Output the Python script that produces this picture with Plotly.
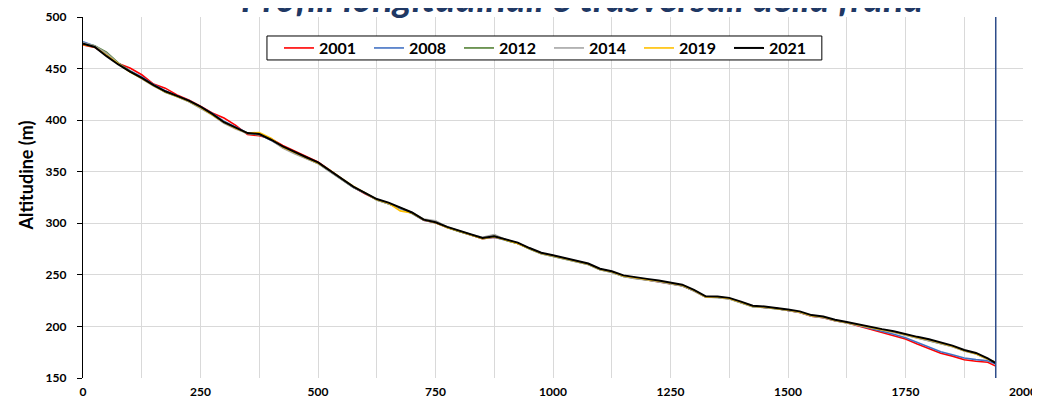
import plotly.graph_objects as go

# progressive distance along the profile (m)
dist = [0, 25, 50, 75, 100, 125, 150, 175, 200, 225, 250, 275, 300, 325, 350, 375, 400, 425, 450, 475,
        500, 525, 550, 575, 600, 625, 650, 675, 700, 725, 750, 775, 800, 825, 850, 875, 900, 925, 950, 975,
        1000, 1025, 1050, 1075, 1100, 1125, 1150, 1175, 1200, 1225, 1250, 1275, 1300, 1325, 1350, 1375,
        1400, 1425, 1450, 1475, 1500, 1525, 1550, 1575, 1600, 1625, 1650, 1675, 1700, 1725, 1750, 1775,
        1800, 1825, 1850, 1875, 1900, 1925, 1942]

years = ["2001", "2008", "2012", "2014", "2019", "2021"]

alt_2001 = [473, 470.5, 463, 455, 450.5, 444, 435, 431, 424.5, 419.5, 413.5, 407, 402, 395, 386,
            385, 382, 375.5, 370, 365, 359.5, 351.5, 343, 335, 328.5, 323, 319.5, 314.5, 310, 303,
            300.5, 296, 292.5, 289, 285, 286.5, 284, 280.5, 275.5, 271, 268.5, 266, 263.5, 260.5, 255.5,
            253, 249, 247, 245.5, 243.5, 241.5, 239.5, 234.5, 228.5, 228.5, 227, 223.5, 219.5, 218.5, 217.5,
            215.5, 213.5, 210, 208.5, 205.5, 203.5, 200.5, 197.5, 194.2, 191.3, 187.8, 183, 178.5, 174,
            171.2, 167.7, 166.3, 165.2, 161.5]
alt_2008 = [476, 472, 464, 455, 448, 442, 434.5, 428.5, 423.5, 419, 413, 406.5, 399, 393, 387.5,
            386, 380.5, 374, 368.5, 363.5, 358.5, 350.5, 342.5, 335, 329, 323, 319, 314.5, 309.5, 303,
            300.5, 296, 292.5, 289, 285, 286.5, 283.8, 280.5, 275.5, 271, 268.5, 266, 263.5, 260.5, 255.5,
            252.8, 249, 246.8, 245.5, 243.5, 241.5, 239.5, 234.5, 228.5, 228.3, 227, 223.3, 219.5, 218.5, 217.5,
            215.5, 213.8, 210.2, 208.8, 205.8, 203.8, 201, 198.3, 195.2, 192.4, 189, 184.5, 180, 175.5,
            172.6, 169.4, 167.8, 166.8, 163.5]
alt_2012 = [474.5, 472, 466, 455.5, 447.5, 440.5, 433.5, 427, 423, 418, 412, 405.5, 397.5, 392, 387,
            386, 381.5, 373.5, 368, 363, 358, 350.5, 343, 335, 329.5, 322.5, 319, 315, 310, 303.5,
            302, 296, 292, 288.5, 285.5, 288.5, 283.5, 280.5, 275, 270.5, 268, 265.5, 263, 260, 255,
            252.5, 248.5, 246.5, 245, 243.5, 241.5, 239.5, 234.5, 228.5, 228, 226.8, 223, 219, 218.5, 217.3,
            215.7, 213.8, 210.3, 208.8, 205.7, 203.5, 201, 199, 196.6, 194.6, 191.8, 189.2, 186.8, 183.5,
            180.6, 176.5, 173.5, 168.3, 165]
alt_2014 = [475, 472, 465, 455, 447, 440, 433, 427.5, 422.5, 418, 411.5, 405, 397, 391.5, 387,
            386, 381, 373, 367.5, 363, 358, 350, 342.5, 335, 329.5, 322.5, 319, 315, 310.5, 304,
            302.5, 296.5, 292.5, 289, 286.5, 289, 284, 281, 275.5, 270.5, 268, 265.5, 263, 260, 255,
            252.5, 248.5, 246.3, 245, 243, 241.3, 239.3, 234.3, 228.3, 228, 226.5, 223, 219, 218.3, 217.3,
            215.5, 213.5, 210, 208.5, 205.5, 203.3, 200.8, 198.8, 196.5, 194.3, 191.5, 189, 186.5, 183.3,
            180.3, 176.3, 173.2, 168, 165.5]
alt_2019 = [473.5, 471, 463, 454.5, 446.5, 440.5, 433.5, 427.5, 423, 418.5, 412.5, 405.5, 398, 392, 387.5,
            388, 382.5, 374, 368.5, 363.5, 358.5, 351.5, 343.5, 336, 329.5, 323, 319.5, 312, 310, 303.5,
            300.5, 296, 292.5, 288.5, 285, 287, 284, 280.5, 275.5, 271, 268.5, 266, 263.5, 260.5, 255.5,
            253, 249, 247, 245.5, 244, 241.8, 240, 235, 228.7, 228.5, 227.2, 223.5, 219.5, 218.8, 217.7,
            216, 214, 210.5, 209.2, 206, 203.8, 201.3, 199.2, 196.9, 194.9, 192, 189.4, 187.1, 183.8,
            180.8, 176.6, 173.6, 168.3, 165]
alt_2021 = [474, 471, 462, 454, 447, 441, 434, 428, 423.5, 419, 413, 406, 398, 392.5, 387.5,
            386.5, 381, 374.5, 369, 364, 359, 351, 343.5, 335.5, 329.5, 323.5, 320, 315.5, 310.5, 303.5,
            301, 296.5, 293, 289.5, 285.7, 287.5, 284.6, 281.3, 276, 271.5, 269, 266.5, 264, 261, 256,
            253.5, 249.5, 247.5, 246.1, 244.5, 242.3, 240.5, 235.5, 229.2, 229, 227.7, 224, 220, 219.3, 218.2,
            216.5, 214.6, 211, 209.7, 206.5, 204.3, 201.8, 199.7, 197.4, 195.4, 192.5, 189.9, 187.6, 184.3,
            181.4, 177.2, 174.3, 169, 164.5]

# end of the surveyed section
limit_x = [1942, 1942]
limit_y = [150, 500]

colors = ["#FF0000", "#4472C4", "#548235", "#A5A5A5", "#FFC000", "#000000"]
series = [alt_2001, alt_2008, alt_2012, alt_2014, alt_2019, alt_2021]

fig = go.Figure()
for name, vals, col in zip(years, series, colors):
    fig.add_trace(go.Scatter(x=dist, y=vals, mode="lines", name=name,
                             line=dict(color=col, width=2 if name == "2021" else 1.6)))

fig.add_trace(go.Scatter(x=limit_x, y=limit_y, mode="lines", showlegend=False,
                         line=dict(color="#2E4D8A", width=1.5)))

# title is cut at the top of the picture, as in the original
fig.add_annotation(text="<b><i>Profili longitudinali e trasversali della frana</i></b>",
                   xref="paper", yref="paper", x=0.531, y=1.055, xanchor="center", yanchor="middle",
                   showarrow=False, font=dict(family="Lato", size=38, color="#1F3864"))

# y axis title sits a bit above the middle of the axis
fig.add_annotation(text="<b>Altitudine (m)</b>", textangle=-90,
                   xref="paper", yref="paper", x=-0.0596, y=0.561, xanchor="center", yanchor="middle",
                   showarrow=False, font=dict(family="Lato", size=18, color="black"))

# legend frame (thinner than plotly's own box)
fig.add_shape(type="rect", xref="paper", yref="paper", x0=0.1957, x1=0.786, y0=0.881, y1=0.9474,
              line=dict(color="black", width=1), fillcolor="white", layer="above")

fig.update_layout(
    width=1032, height=397,  # the page body adds 8px around the figure
    margin=dict(l=75, r=17, t=9, b=27, autoexpand=False),
    paper_bgcolor="white", plot_bgcolor="white",
    font=dict(family="Lato", color="black"),
    legend=dict(orientation="h", x=0.2085, y=0.914, xanchor="left", yanchor="middle",
                borderwidth=0, bgcolor="rgba(0,0,0,0)",
                font=dict(size=16, family="Lato", weight="bold"),
                entrywidth=45, tracegroupgap=0),
    showlegend=True,
)
fig.update_xaxes(range=[0, 2000], dtick=250, tick0=0, showgrid=True, gridcolor="#D9D9D9", gridwidth=1,
                 minor=dict(dtick=125, showgrid=True, gridcolor="#D9D9D9", gridwidth=1),
                 showline=False, zeroline=False, ticks="", automargin=False,
                 tickfont=dict(size=12, family="Lato", weight="bold"), ticklabelstandoff=5)
fig.update_yaxes(range=[150, 500], dtick=50, showgrid=True, gridcolor="#D9D9D9", gridwidth=1,
                 showline=True, linecolor="black", linewidth=1.2, zeroline=False,
                 ticks="outside", ticklen=5, tickcolor="black", automargin=False,
                 tickfont=dict(size=12, family="Lato", weight="bold"), ticklabelstandoff=8)

fig.write_html("out.html")
